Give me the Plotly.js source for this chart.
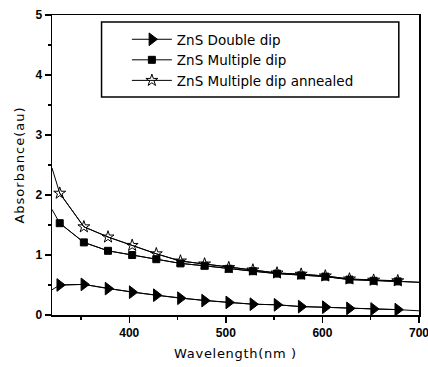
<!DOCTYPE html>
<html>
<head>
<meta charset="utf-8">
<script src="https://cdn.plot.ly/plotly-3.0.1.min.js"></script>
<style>
html,body{margin:0;padding:0;background:#fff;}
#chart{width:428px;height:367px;}
#chart .xtitle{letter-spacing:0.7px;}
#chart .ytitle{letter-spacing:1px;}
</style>
</head>
<body>
<div id="chart"></div>
<script>
// Wavelength (nm) sample points (first and last are line ends without markers)
const wavelength = [320, 328, 353, 378, 403, 428, 453, 478, 503, 528, 553, 578, 603, 628, 653, 678, 700];
const doubleDip   = [0.42, 0.50, 0.51, 0.44, 0.38, 0.33, 0.28, 0.24, 0.21, 0.18, 0.17, 0.14, 0.13, 0.11, 0.10, 0.09, 0.07];
const multipleDip = [1.76, 1.53, 1.21, 1.07, 1.00, 0.93, 0.86, 0.82, 0.77, 0.73, 0.69, 0.66, 0.64, 0.59, 0.57, 0.56, 0.545];
const annealed    = [2.45, 2.03, 1.47, 1.30, 1.16, 1.02, 0.90, 0.85, 0.79, 0.75, 0.70, 0.68, 0.65, 0.60, 0.58, 0.57, 0.545];
const seriesNames = ['ZnS Double dip', 'ZnS Multiple dip', 'ZnS Multiple dip annealed'];
const symbols = ['triangle-right', 'square', 'star-open'];
const markerSizes = [11, 7, 9];
const xTitle = 'Wavelength(nm )';
const yTitle = 'Absorbance(au)';

const seriesValues = [doubleDip, multipleDip, annealed];
const traces = [];
seriesValues.forEach((vals, k) => {
  // full line (including unmarked end segments)
  traces.push({x: wavelength, y: vals, mode: 'lines', showlegend: false, hoverinfo: 'skip',
    line: {color: '#000', width: 1}});
});
seriesValues.forEach((vals, k) => {
  // marked points
  traces.push({x: wavelength.slice(1, -1), y: vals.slice(1, -1), name: seriesNames[k], mode: 'lines+markers',
    line: {color: '#000', width: 1},
    marker: {symbol: symbols[k], size: markerSizes[k], color: '#000', line: {width: 1, color: '#000'}}});
});

const tickFont = {family: 'Liberation Sans', size: 12, color: '#000', weight: 'bold'};
const axisCommon = {
  showgrid: false, zeroline: false, showline: true, linecolor: '#000', linewidth: 1.5,
  mirror: true, ticks: 'outside', tickcolor: '#000', tickwidth: 1.5, ticklen: 6,
  tickfont: tickFont
};

const layout = {
  width: 428, height: 367,
  margin: {l: 52, r: 9, t: 15, b: 52},
  paper_bgcolor: '#fff', plot_bgcolor: '#fff',
  showlegend: true,
  xaxis: Object.assign({}, axisCommon, {
    range: [320, 700], tick0: 0, dtick: 100, ticklabeloverflow: 'allow',
    minor: {dtick: 50, ticks: 'outside', ticklen: 3, tickcolor: '#000', tickwidth: 1.5},
    title: {text: xTitle, font: {family: 'DejaVu Sans', size: 13, color: '#000'}, standoff: 10}
  }),
  yaxis: Object.assign({}, axisCommon, {
    range: [0, 5], tick0: 0, dtick: 1,
    minor: {dtick: 0.5, ticks: 'outside', ticklen: 3, tickcolor: '#000', tickwidth: 1.5},
    title: {text: yTitle, font: {family: 'DejaVu Sans', size: 13, color: '#000'}, standoff: 8}
  }),
  legend: {
    x: 0.204, y: 0.970, xanchor: 'left', yanchor: 'top',
    bgcolor: 'rgba(0,0,0,0)', borderwidth: 0,
    font: {family: 'DejaVu Sans', size: 13.5, color: '#000'},
    itemwidth: 40, tracegroupgap: 0
  },
  shapes: [
    {type: 'rect', xref: 'paper', yref: 'paper', x0: 0.135, x1: 0.945, y0: 0.727, y1: 0.977,
     line: {color: '#000', width: 1.5}, fillcolor: 'rgba(0,0,0,0)', layer: 'above'}
  ]
};

Plotly.newPlot('chart', traces, layout, {displayModeBar: false, staticPlot: true});
</script>
</body>
</html>
